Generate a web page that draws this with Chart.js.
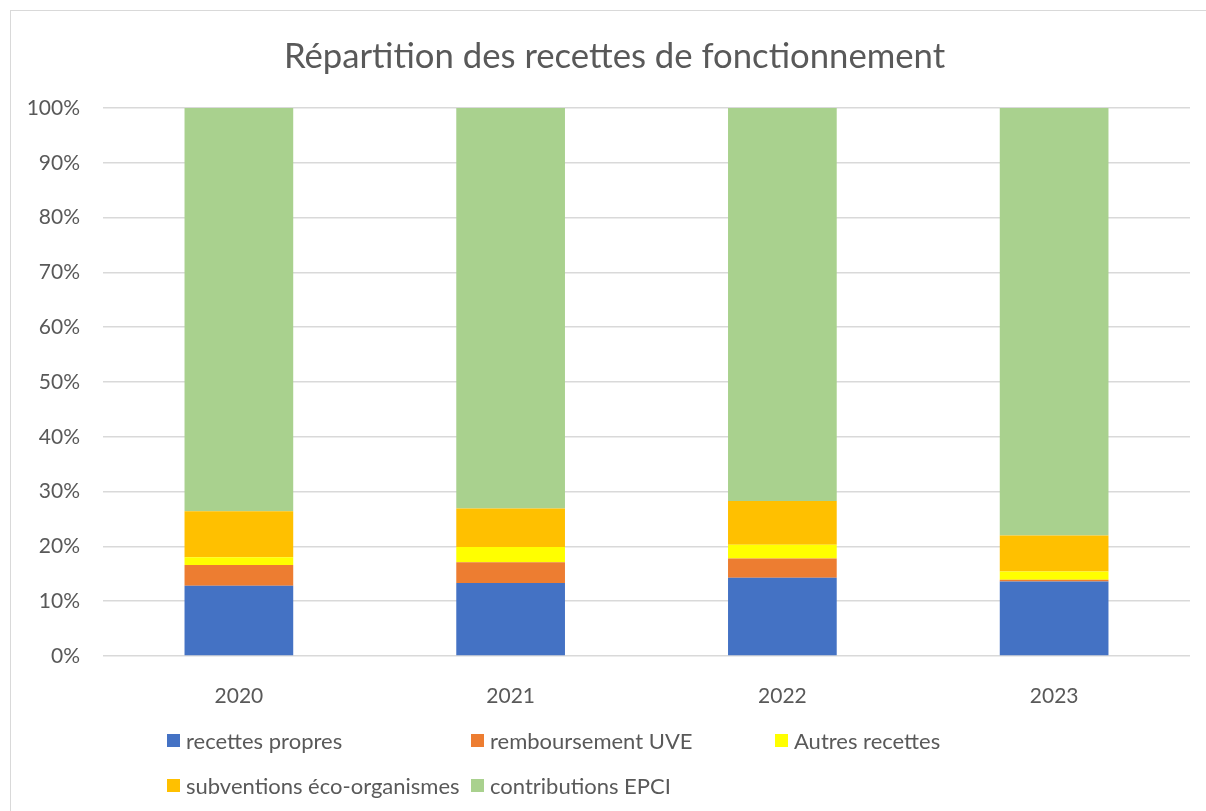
<!DOCTYPE html>
<html>
<head>
<meta charset="utf-8">
<script src="https://cdn.jsdelivr.net/npm/chart.js@4"></script>
<style>
    body { margin: 0; background: #fff; font-family: Lato, "Open Sans", sans-serif; overflow: hidden; }
    #wrap { position: relative; width: 1206px; height: 811px; overflow: hidden; }
    #frame { position: absolute; left: 10px; top: 10px; width: 1300px; height: 900px; border: 1px solid #d9d9d9; box-sizing: border-box; }
    #myChart { position: absolute; left: 0; top: 0; }
    #title { position: absolute; left: 15px; width: 1199px; top: 34px; text-align: center; font-size: 34.7px; line-height: 1.2; color: #595959; white-space: nowrap; }
    .leg { position: absolute; display: flex; align-items: center; height: 26px; font-size: 22px; color: #595959; white-space: nowrap; }
    .leg i { display: inline-block; width: 13px; height: 13px; margin-right: 6px; }
</style>
</head>
<body>
<div id="wrap">
    <div id="frame"></div>
    <canvas id="myChart" width="1206" height="811"></canvas>
    <div id="title">Répartition des recettes de fonctionnement</div>
    <div id="legend"></div>
</div>
<script>
// values, in % of total
const years = ['2020', '2021', '2022', '2023'];
const recettesPropres = [12.8, 13.3, 14.3, 13.6];
const remboursementUVE = [3.8, 3.8, 3.5, 0.3];
const autresRecettes = [1.4, 2.8, 2.5, 1.5];
const subventionsEco = [8.4, 7.0, 8.0, 6.6];
const contributionsEPCI = [73.6, 73.1, 71.7, 78.0];

const seriesNames = ['recettes propres', 'remboursement UVE', 'Autres recettes', 'subventions éco-organismes', 'contributions EPCI'];
const seriesData = [recettesPropres, remboursementUVE, autresRecettes, subventionsEco, contributionsEPCI];
const seriesColors = ['#4472C4', '#ED7D31', '#FFFF00', '#FFC000', '#A9D18E'];

const textColor = '#595959';

const datasets = [];
for (let i = 0; i < seriesNames.length; i++) {
    datasets.push({
        label: seriesNames[i],
        data: seriesData[i],
        backgroundColor: seriesColors[i],
        borderWidth: 0,
        barPercentage: 0.4,
        categoryPercentage: 1.0
    });
}

const ctx = document.getElementById('myChart').getContext('2d');
const myChart = new Chart(ctx, {
    type: 'bar',
    data: { labels: years, datasets: datasets },
    options: {
        responsive: false,
        animation: false,
        layout: { padding: { left: 10, right: 16, top: 108, bottom: 0 } },
        plugins: {
            legend: { display: false },
            tooltip: { enabled: false },
            title: { display: false }
        },
        scales: {
            x: {
                stacked: true,
                grid: { display: false },
                border: { display: false },
                ticks: { color: textColor, font: { family: 'Lato', size: 21 }, padding: 20 },
                afterFit: (s) => { s.height = 155; }
            },
            y: {
                stacked: true,
                min: 0,
                max: 100,
                grid: { color: '#d9d9d9', lineWidth: 1.5, drawTicks: false },
                border: { display: false },
                ticks: {
                    stepSize: 10,
                    color: textColor,
                    font: { family: 'Lato', size: 21 },
                    padding: 23,
                    callback: (v) => v + '%'
                },
                afterFit: (s) => { s.width = 93; }
            }
        }
    }
});

// legend laid out in a grid like the original
const legendPos = [[167, 727], [471, 727], [775, 727], [167, 772], [471, 772]];
const legend = document.getElementById('legend');
myChart.data.datasets.forEach((ds, i) => {
    const item = document.createElement('div');
    item.className = 'leg';
    item.style.left = legendPos[i][0] + 'px';
    item.style.top = legendPos[i][1] + 'px';
    item.innerHTML = '<i style="background:' + ds.backgroundColor + '"></i>' + ds.label;
    legend.appendChild(item);
});
</script>
</body>
</html>
